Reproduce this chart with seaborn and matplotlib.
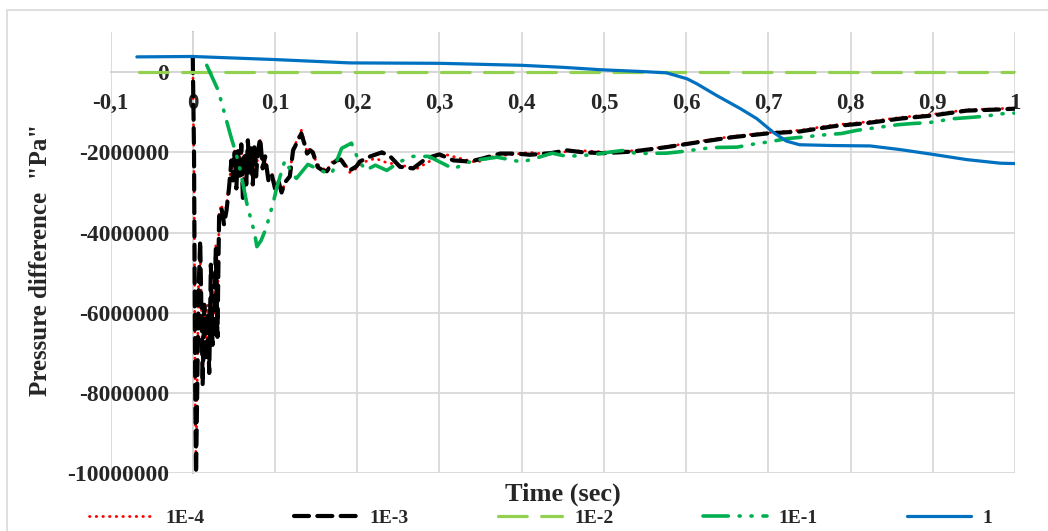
import matplotlib
matplotlib.use("Agg")
import numpy as np
import pandas as pd
import seaborn as sns
from matplotlib import pyplot as plt
from matplotlib.patches import Rectangle
from matplotlib.ticker import FixedLocator, FuncFormatter

# 1E-3 (black dashed)
t_1e3 = [0, 0.0015, 0.003, 0.004, 0.005, 0.007, 0.009, 0.011, 0.012, 0.014, 0.016, 0.018,
         0.020, 0.022, 0.024, 0.026, 0.028, 0.030, 0.032, 0.035, 0.038, 0.041, 0.044, 0.047,
         0.049, 0.051, 0.053, 0.055, 0.057, 0.059, 0.061, 0.063, 0.065, 0.067, 0.069, 0.071,
         0.073, 0.075, 0.077, 0.079, 0.082, 0.085, 0.088, 0.092, 0.096, 0.100, 0.104, 0.108,
         0.112, 0.118, 0.122, 0.128, 0.132, 0.136, 0.139, 0.143, 0.146, 0.152, 0.158, 0.163,
         0.169, 0.175, 0.180, 0.186, 0.191, 0.199, 0.203, 0.216, 0.230, 0.240, 0.252, 0.268,
         0.284, 0.300, 0.317, 0.337, 0.353, 0.374, 0.394, 0.410, 0.435, 0.455, 0.475, 0.500,
         0.535, 0.576, 0.617, 0.657, 0.698, 0.738, 0.779, 0.820, 0.860, 0.900, 0.941, 0.982, 1.0]
p_1e3 = [350000, -2000000, -8000000, -10000000, -8500000, -5500000, -4200000, -6500000,
         -7800000, -5800000, -7200000, -6000000, -7500000, -4800000, -6800000, -6300000,
         -4400000, -6600000, -3600000, -3400000, -3800000, -3450000, -2900000, -2200000,
         -2700000, -2000000, -2900000, -1900000, -2600000, -1800000, -3200000, -2000000,
         -2800000, -1700000, -2500000, -1900000, -2800000, -1800000, -2600000, -2000000,
         -1650000, -2400000, -2100000, -2700000, -2550000, -2900000, -2700000, -3000000,
         -2750000, -2600000, -1950000, -1700000, -1530000, -1800000, -2030000, -1950000,
         -2000000, -2370000, -2450000, -2470000, -2300000, -2200000, -2180000, -2350000,
         -2450000, -2350000, -2230000, -2100000, -2000000, -2100000, -2360000, -2400000,
         -2150000, -2050000, -2200000, -2230000, -2150000, -2030000, -2030000, -2060000,
         -2020000, -1950000, -2000000, -2020000, -1980000, -1870000, -1740000, -1620000,
         -1530000, -1480000, -1350000, -1270000, -1160000, -1080000, -960000, -930000, -910000]

# 1E-4 (red dotted)
t_1e4 = [0, 0.0015, 0.003, 0.004, 0.005, 0.007, 0.009, 0.011, 0.012, 0.014, 0.016, 0.018,
         0.020, 0.022, 0.024, 0.026, 0.028, 0.030, 0.032, 0.035, 0.038, 0.041, 0.044, 0.047,
         0.049, 0.051, 0.053, 0.055, 0.057, 0.059, 0.061, 0.063, 0.065, 0.067, 0.069, 0.071,
         0.073, 0.075, 0.077, 0.079, 0.082, 0.085, 0.088, 0.092, 0.096, 0.100, 0.104, 0.108,
         0.112, 0.118, 0.122, 0.128, 0.132, 0.136, 0.139, 0.143, 0.146, 0.152, 0.158, 0.163,
         0.169, 0.175, 0.180, 0.186, 0.191, 0.199, 0.207, 0.222, 0.235, 0.247, 0.260, 0.273,
         0.290, 0.307, 0.325, 0.345, 0.366, 0.390, 0.410, 0.430, 0.455, 0.475, 0.500,
         0.535, 0.576, 0.617, 0.657, 0.698, 0.738, 0.779, 0.820, 0.860, 0.900, 0.941, 0.982, 1.0]
p_1e4 = [350000, -2500000, -8500000, -9900000, -8200000, -5300000, -4400000, -6300000,
         -7600000, -6000000, -7000000, -5800000, -7300000, -5000000, -6600000, -6100000,
         -4300000, -6400000, -3500000, -3300000, -3700000, -3300000, -2800000, -2300000,
         -2600000, -1900000, -2800000, -2000000, -2500000, -1750000, -3000000, -2100000,
         -2700000, -1750000, -2400000, -2000000, -2700000, -1850000, -2500000, -2100000,
         -1700000, -2300000, -2200000, -2600000, -2500000, -2800000, -2750000, -2950000,
         -2800000, -2550000, -1900000, -1650000, -1450000, -1750000, -2000000, -1900000,
         -2050000, -2300000, -2400000, -2450000, -2250000, -2150000, -2150000, -2300000,
         -2500000, -2400000, -2250000, -2150000, -2250000, -2300000, -2350000, -2400000,
         -2200000, -2050000, -2150000, -2250000, -2100000, -2050000, -2000000, -2050000,
         -1980000, -1960000, -1990000, -1960000, -1860000, -1720000, -1600000, -1510000,
         -1450000, -1320000, -1240000, -1130000, -1050000, -940000, -910000, -890000]

# 1E-2 (light green dashed)
t_1e2 = [-0.065, 1.0]
p_1e2 = [0, 0]

# 1E-1 (green dash-dot-dot)
t_1e1 = [0.017, 0.031, 0.046, 0.056, 0.066, 0.075, 0.078, 0.083, 0.089, 0.098, 0.102,
         0.112, 0.120, 0.126, 0.140, 0.160, 0.169, 0.181, 0.193, 0.200, 0.210, 0.222,
         0.236, 0.252, 0.268, 0.287, 0.317, 0.335, 0.350, 0.370, 0.400, 0.418, 0.437,
         0.455, 0.487, 0.505, 0.524, 0.540, 0.576, 0.595, 0.613, 0.631, 0.662, 0.680,
         0.700, 0.722, 0.751, 0.770, 0.789, 0.808, 0.840, 0.858, 0.876, 0.895, 0.925,
         0.945, 0.964, 0.982, 1.0]
p_1e1 = [170000, -460000, -1580000, -2270000, -3300000, -4000000, -4350000, -4200000,
         -3900000, -3240000, -2890000, -2200000, -2490000, -2650000, -2300000, -2490000,
         -2530000, -1900000, -1770000, -2120000, -2450000, -2320000, -2450000, -2230000,
         -2100000, -2100000, -2410000, -2250000, -2180000, -2120000, -2240000, -2140000,
         -2020000, -2100000, -2060000, -2000000, -1950000, -2030000, -2020000, -1980000,
         -1930000, -1880000, -1870000, -1800000, -1740000, -1660000, -1600000, -1560000,
         -1530000, -1450000, -1360000, -1310000, -1280000, -1260000, -1160000, -1130000,
         -1100000, -1040000, -1020000]

# 1 (blue solid)
t_1 = [-0.068, 0.0, 0.098, 0.191, 0.300, 0.400, 0.450, 0.496, 0.544, 0.576, 0.601, 0.613,
       0.637, 0.666, 0.686, 0.706, 0.722, 0.738, 0.779, 0.824, 0.860, 0.900, 0.941, 0.982, 1.0]
p_1 = [380000, 390000, 315000, 230000, 220000, 170000, 120000, 60000, 17000, -17000,
       -165000, -290000, -580000, -910000, -1160000, -1500000, -1720000, -1810000,
       -1830000, -1840000, -1930000, -2050000, -2180000, -2270000, -2280000]

x_ticks = [-0.1, 0.0, 0.1, 0.2, 0.3, 0.4, 0.5, 0.6, 0.7, 0.8, 0.9, 1.0]
y_ticks = [0, -2000000, -4000000, -6000000, -8000000, -10000000]

sns.set_theme(style="white")
plt.rcParams["font.family"] = ["Liberation Serif", "DejaVu Serif"]
plt.rcParams["font.weight"] = "bold"

fig = plt.figure(figsize=(10.48, 5.31), dpi=100)
ax = fig.add_axes([0.1055, 0.1087, 0.863, 0.831])

series = [
    ("1E-4", t_1e4, p_1e4, "#ff0000", 2.0, (0, (0.2, 2.2))),
    ("1E-3", t_1e3, p_1e3, "#000000", 3.0, (0, (3.6, 2))),
    ("1E-2", t_1e2, p_1e2, "#92d050", 2.3, (0, (9, 4.5))),
    ("1E-1", t_1e1, p_1e1, "#00b050", 2.6, (0, (7, 3, 0.3, 3, 0.3, 3))),
    ("1", t_1, p_1, "#0070c0", 2.3, "-"),
]
for name, t, p, color, lw, ls in series:
    df = pd.DataFrame({"t": t, "p": p})
    sns.lineplot(data=df, x="t", y="p", ax=ax, sort=False, estimator=None,
                 color=color, lw=lw, linestyle=ls, label=name,
                 dash_capstyle="round", solid_capstyle="round")

ax.set_xlim(-0.1, 1.0)
ax.set_ylim(-10000000, 1000000)
ax.xaxis.set_major_locator(FixedLocator(x_ticks))
ax.yaxis.set_major_locator(FixedLocator(y_ticks))
ax.xaxis.set_major_formatter(FuncFormatter(lambda v, _: ("%g" % round(v, 1)).replace(".", ",")))
ax.yaxis.set_major_formatter(FuncFormatter(lambda v, _: "%d" % v))
ax.tick_params(axis="x", length=0, pad=15, labelsize=16.5)
ax.tick_params(axis="y", length=0, pad=17, labelsize=17)
for lab in ax.get_xticklabels() + ax.get_yticklabels():
    lab.set_fontweight("bold")

ax.grid(True, color="#d9d9d9", lw=1.3)
ax.set_axisbelow(True)
for s in ["top", "right"]:
    ax.spines[s].set_visible(False)
ax.spines["left"].set_position(("data", 0))
ax.spines["bottom"].set_position(("data", 0))
for s in ["left", "bottom"]:
    ax.spines[s].set_color("#bfbfbf")
    ax.spines[s].set_linewidth(1.3)
    ax.spines[s].set_zorder(0.5)
ax.set_xlabel("")
ax.set_ylabel("")

fig.text(41 / 1048, 1 - 260 / 531, 'Pressure difference  "Pa"', rotation=90,
         ha="center", va="center", fontsize=18, fontweight="bold")
fig.text(563 / 1048, 1 - 494 / 531, "Time (sec)", ha="center", va="center",
         fontsize=19, fontweight="bold")

handles, labels = ax.get_legend_handles_labels()
ax.get_legend().remove()
fig.legend(handles, labels, loc="center", bbox_to_anchor=(541 / 1048, 1 - 518 / 531),
           ncol=5, frameon=False, prop={"size": 14, "weight": "bold"},
           handlelength=3.3, handletextpad=0.6, columnspacing=4.6)

fig.patches.append(Rectangle((7 / 1048, -0.1), 1.0, 1.1 - 10 / 531, transform=fig.transFigure,
                             fill=False, edgecolor="#d9d9d9", lw=1.2))

fig.savefig("out.png", dpi=100)
